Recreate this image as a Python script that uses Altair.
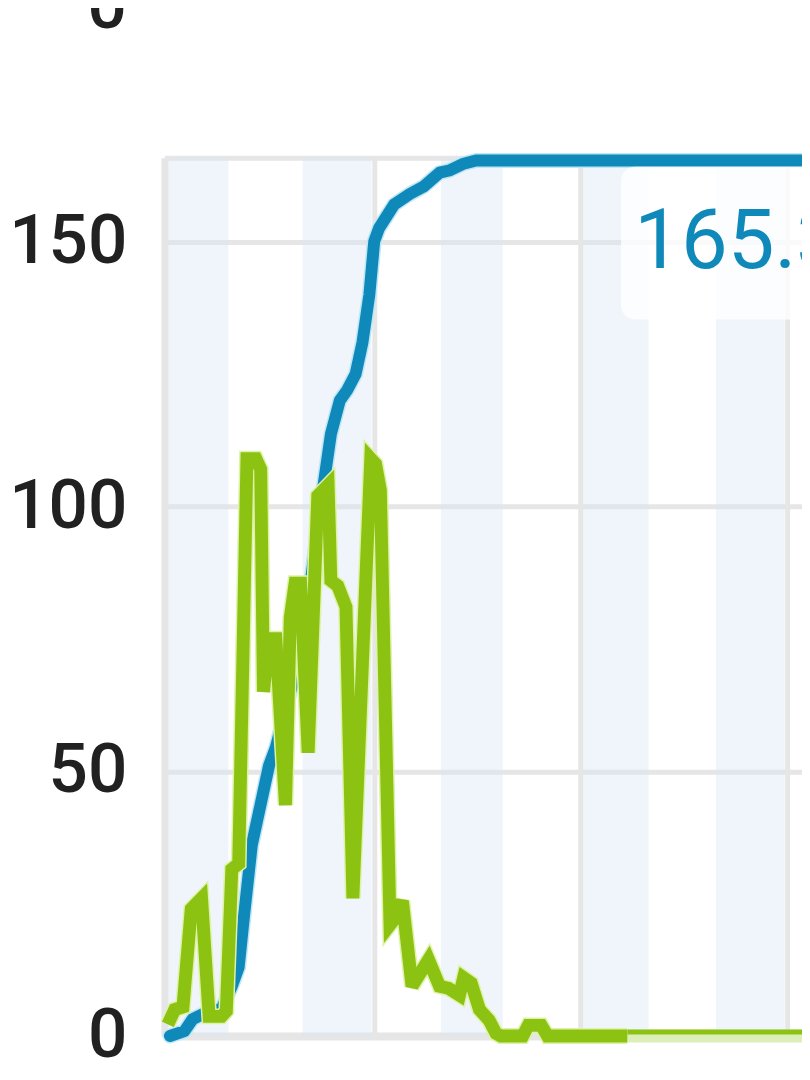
import altair as alt
import pandas as pd

# ---- data (x in days) ----
green_x = [0.00, 0.10, 0.22, 0.34, 0.49, 0.60, 0.78, 0.85, 0.93, 1.03, 1.15, 1.28, 1.35,
           1.39, 1.47, 1.57, 1.71, 1.78, 1.85, 1.93, 2.04, 2.18, 2.33, 2.37, 2.47, 2.59,
           2.69, 2.95, 3.02, 3.09, 3.23, 3.29, 3.41, 3.55, 3.79, 3.95, 4.08, 4.24, 4.30,
           4.41, 4.53, 4.67, 4.77, 4.84, 5.16, 5.24, 5.43, 5.52, 6.68]
green_y = [2.2, 5.0, 5.5, 24.0, 26.0, 3.7, 3.7, 4.7, 31.5, 32.5, 109.0, 109.0, 107.0,
           65.0, 75.0, 75.0, 43.6, 79.0, 85.5, 85.5, 53.5, 102.0, 104.0, 86.0, 85.0, 81.0,
           26.0, 109.0, 108.0, 103.0, 21.0, 22.0, 25.5, 9.4, 14.4, 9.4, 9.0, 7.7, 11.0,
           10.0, 5.0, 3.0, 0.5, 0.0, 0.0, 2.0, 2.0, 0.0, 0.0]

tail_x = [6.68, 9.40]
tail_y = [0.0, 0.0]

blue_x = [0.03, 0.24, 0.36, 0.60, 0.78, 0.93, 1.03, 1.11, 1.22, 1.47, 1.57, 1.80, 2.00,
          2.18, 2.23, 2.37, 2.50, 2.61, 2.73, 2.83, 2.93, 3.00, 3.07, 3.29, 3.52, 3.72,
          3.95, 4.09, 4.30, 4.48, 9.40]
blue_y = [0.0, 0.9, 3.2, 4.7, 5.1, 9.4, 13.0, 23.0, 36.0, 51.0, 54.5, 66.0, 78.0,
          96.0, 101.0, 113.6, 120.0, 122.0, 125.0, 131.0, 140.0, 150.0, 152.5, 157.0, 159.0,
          160.4, 163.0, 163.4, 164.7, 165.3, 165.3]

band_start = [0.00, 1.96, 3.97, 6.04, 7.97]
band_end = [0.88, 2.96, 4.87, 6.99, 8.97]

y_ticks = [0, 50, 100, 150]
x_grid = [3, 6, 9]
upper_panel_labels = ["0"]

final_value = 165.3
box_x, box_x2, box_y, box_y2 = 6.59, 9.80, 135.3, 164.1
label_x, label_y = 6.78, 145.0

X_MIN, X_MAX = -0.05, 9.22
Y_MAX = 165.8

BLUE = "#0f89ba"
GREEN = "#8cc312"
GRID = "#e6e6e6"

green_df = pd.DataFrame({"x": green_x, "y": green_y})
tail_df = pd.DataFrame({"x": tail_x, "y": tail_y})
blue_df = pd.DataFrame({"x": blue_x, "y": blue_y})
band_df = pd.DataFrame({"x": band_start, "x2": band_end, "y": [0.0] * len(band_start),
                        "y2": [Y_MAX] * len(band_start)})
box_df = pd.DataFrame({"x": [box_x], "x2": [box_x2], "y": [box_y], "y2": [box_y2]})
label_df = pd.DataFrame({"x": [label_x], "y": [label_y], "t": [f"{final_value:.1f}"]})
upper_df = pd.DataFrame({"t": upper_panel_labels})

xs = alt.Scale(domain=[X_MIN, X_MAX], nice=False, zero=False)
ys = alt.Scale(domain=[0, Y_MAX], nice=False, zero=False)

x_axis = alt.Axis(values=x_grid, labels=False, ticks=False, tickSize=0, grid=True,
                  gridColor=GRID, gridWidth=5, domain=True, domainColor=GRID,
                  domainWidth=8, title=None)
y_axis = alt.Axis(values=y_ticks + [Y_MAX], labelExpr="datum.value > 160 ? '' : datum.label",
                  labelOverlap=False, ticks=False, tickSize=0, grid=True, gridColor=GRID,
                  gridWidth=5, domain=True, domainColor=GRID, domainWidth=7,
                  labelFontSize=70, labelFont="Roboto", labelFontWeight=500,
                  labelColor="#212121", labelPadding=38, title=None)

X = alt.X("x:Q", scale=xs, axis=x_axis)
Y = alt.Y("y:Q", scale=ys, axis=y_axis)

bands = alt.Chart(band_df).mark_rect(color="#d6e6f2", opacity=0.4).encode(
    x=X, x2="x2:Q", y=Y, y2="y2:Q",
)

blue_halo = alt.Chart(blue_df).mark_line(color="#bfe6f5", strokeWidth=15, strokeJoin="round",
                                         strokeCap="round").encode(x=X, y=Y)
blue_line = alt.Chart(blue_df).mark_line(color=BLUE, strokeWidth=12, strokeJoin="round",
                                         strokeCap="round").encode(x=X, y=Y)

tail_light = alt.Chart(tail_df).mark_line(color="#dcefb9", strokeWidth=13).encode(x=X, y=Y)
tail_dark = alt.Chart(tail_df).mark_line(color=GREEN, strokeWidth=5, yOffset=-4).encode(x=X, y=Y)

green_halo = alt.Chart(green_df).mark_line(color="#dff2a8", strokeWidth=16, strokeJoin="miter",
                                           strokeMiterLimit=3).encode(x=X, y=Y)
green_line = alt.Chart(green_df).mark_line(color=GREEN, strokeWidth=13, strokeJoin="miter",
                                           strokeMiterLimit=3).encode(x=X, y=Y)

box = alt.Chart(box_df).mark_rect(color="white", opacity=0.8, cornerRadius=14).encode(
    x=X, x2="x2:Q", y=Y, y2="y2:Q",
)

label = alt.Chart(label_df).mark_text(align="left", baseline="alphabetic", fontSize=84,
                                      font="Roboto", color=BLUE).encode(
    x=X, y=Y, text="t:N",
)

upper_label = alt.Chart(upper_df).mark_text(align="right", baseline="middle", fontSize=70,
                                            font="Roboto", fontWeight=500,
                                            color="#212121").encode(
    x=alt.value(-38),
    y=alt.value(-152),
    text="t:N",
)

chart = alt.layer(
    bands, blue_halo, blue_line, tail_light, tail_dark, green_halo, green_line,
    box, label, upper_label
).properties(
    width=644,
    height=887,
    autosize=alt.AutoSizeParams(type="none"),
    padding={"left": 158, "top": 146, "right": 0, "bottom": 30},
).configure_view(stroke=None).configure(background="white")

chart.save("out.html", embed_options={"renderer": "svg", "actions": False})
